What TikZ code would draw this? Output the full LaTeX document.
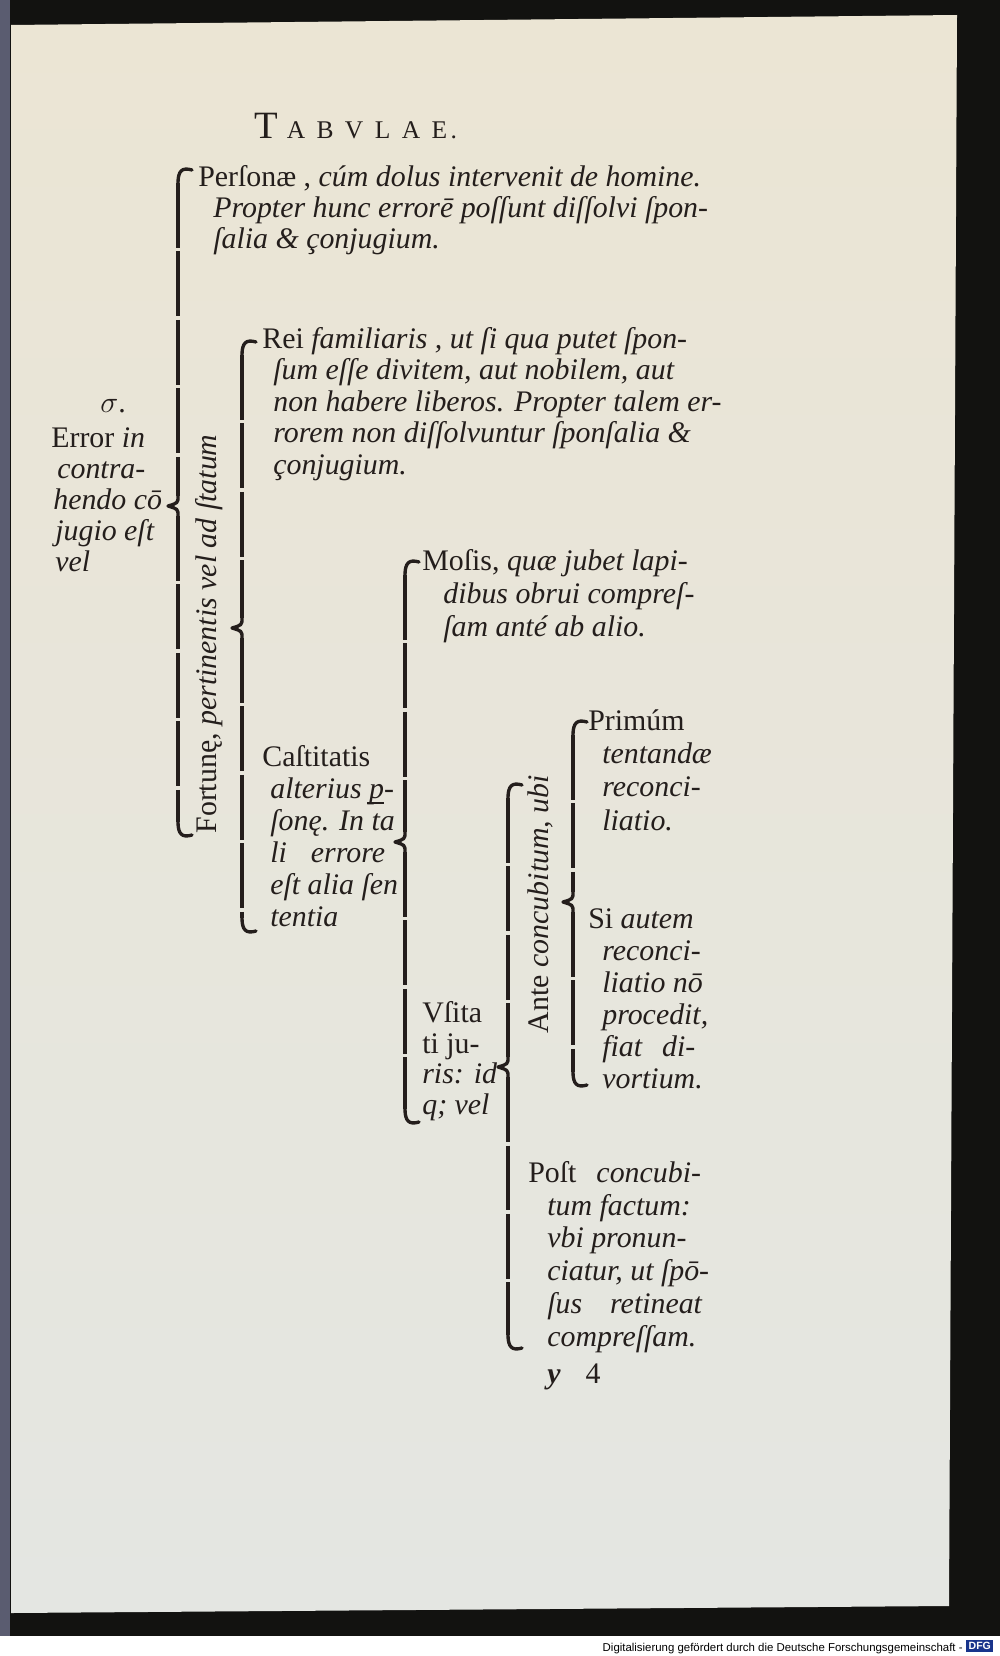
\documentclass[tikz,border=0pt]{standalone}
\usepackage{fontspec}
\usepackage{xcolor}
\usepackage{tikz}
\usetikzlibrary{calc}
\setmainfont{Liberation Serif}
\newfontfamily\dfgfont{Liberation Sans}
\definecolor{paperhi}{RGB}{235,229,212}
\definecolor{paperlo}{RGB}{228,230,226}
\definecolor{scanframe}{RGB}{18,18,16}
\definecolor{scanedge}{RGB}{90,92,112}
\definecolor{ink}{RGB}{36,30,28}
\definecolor{dfgblue}{RGB}{24,52,140}
\newcommand{\pbar}{\rlap{\kern-0.06em\rule[-0.42ex]{0.55em}{0.07em}}p}
% brace set from type pieces: top hook, cusp, bottom hook
\newcommand{\typebrace}[1]{%
  \draw[bracehook] ($(#1-t)+(14,2)$) .. controls ($(#1-t)+(4,-1)$) and ($(#1-t)+(0,3)$) .. ($(#1-t)+(0,15)$);
  \draw[braceline] ($(#1-t)+(0,15)$) -- ($(#1-m)+(0,-10)$);
  \draw[bracehook] ($(#1-m)+(0,-10)$) .. controls ($(#1-m)+(0,-3)$) .. ($(#1-m)+(-10,0)$) .. controls ($(#1-m)+(0,3)$) .. ($(#1-m)+(0,10)$);
  \draw[braceline] ($(#1-m)+(0,10)$) -- ($(#1-b)+(0,-15)$);
  \draw[bracehook] ($(#1-b)+(0,-15)$) .. controls ($(#1-b)+(0,-3)$) and ($(#1-b)+(4,1)$) .. ($(#1-b)+(14,-2)$);
}

\begin{document}
\begin{tikzpicture}[x=0.02cm,y=-0.02cm,line join=round,
  braceline/.style={draw=ink,line width=1.9pt,dash pattern=on 1.3cm off 0.07cm},
  bracehook/.style={draw=ink,line width=1.9pt,line cap=round},
  blk/.style={anchor=base west,inner sep=0pt,align=left,text=ink,font=\fontsize{17}{#1}\selectfont},
  rot/.style={rotate=90,inner sep=0pt,text=ink,font=\fontsize{17}{18}\selectfont}]
  \useasboundingbox (0,0) rectangle (1000,1656);
  % scan frame and page
  \fill[scanframe] (0,0) rectangle (1000,1636);
  \fill[white] (0,1636) rectangle (1000,1656);
  \fill[scanedge] (0,0) rectangle (10,1636);
  \shade[top color=paperhi,bottom color=paperlo] (11,25) -- (957,15) -- (949,1606) -- (11,1613) -- cycle;
  \node[anchor=base east,inner sep=0pt,font=\dfgfont\fontsize{6.5}{7}\selectfont] (dfgline) at (963,1651) {Digitalisierung gefördert durch die Deutsche Forschungsgemeinschaft -};
  \node[anchor=west,fill=dfgblue,text=white,inner sep=1.3pt,font=\dfgfont\bfseries\fontsize{6}{6}\selectfont] (dfglogo) at (966,1646) {DFG};
  % braces
  \coordinate (B1-t) at (178,168);
  \coordinate (B1-m) at (178,506);
  \coordinate (B1-b) at (178,837);
  \coordinate (B2-t) at (242,340);
  \coordinate (B2-m) at (242,628);
  \coordinate (B2-b) at (242,933);
  \coordinate (B3-t) at (405,560);
  \coordinate (B3-m) at (405,842);
  \coordinate (B3-b) at (405,1124);
  \coordinate (B4-t) at (508,783);
  \coordinate (B4-m) at (508,1067);
  \coordinate (B4-b) at (508,1350);
  \coordinate (B5-t) at (573,720);
  \coordinate (B5-m) at (573,902);
  \coordinate (B5-b) at (573,1087);
  \typebrace{B1}
  \typebrace{B2}
  \typebrace{B3}
  \typebrace{B4}
  \typebrace{B5}
  % texts (multi-line blocks sit on their last baseline)
  \node[anchor=base west,inner sep=0pt,text=ink] (title) at (254,138) {\fontsize{22}{22}\selectfont T\hspace{5pt}\fontsize{14.5}{14.5}\selectfont A\hspace{6.5pt}B\hspace{6.5pt}V\hspace{6.5pt}L\hspace{6.5pt}A\hspace{6.5pt}E\hspace{2pt}.};
  \node[blk=17.6] (sig) at (100,412) {$\sigma$.};
  \node[blk=17.6] (error) at (51,571) {Error \textit{in}\\\hspace*{0.12cm}\textit{contra-}\\\hspace*{0.04cm}\textit{hendo cō}\\\hspace*{0.08cm}\textit{jugio eſt}\\\hspace*{0.08cm}\textit{vel}};
  \node[blk=17.6] (personae) at (198,248) {Perſonæ , \textit{cúm dolus intervenit de homine.}\\\hspace*{0.3cm}\textit{Propter hunc errorē poſſunt diſſolvi ſpon-}\\\hspace*{0.3cm}\textit{ſalia \& çonjugium.}};
  \node[rot] (fortunae) at (209,634) {Fortunę, \textit{pertinentis vel ad ſtatum}};
  \node[blk=17.9] (rei) at (262,474) {Rei \textit{familiaris , ut ſi qua putet ſpon-}\\\hspace*{0.22cm}\textit{ſum eſſe divitem, aut nobilem, aut}\\\hspace*{0.22cm}\textit{non habere liberos. Propter talem er-}\\\hspace*{0.22cm}\textit{rorem non diſſolvuntur ſponſalia \&}\\\hspace*{0.22cm}\textit{çonjugium.}};
  \node[blk=18.2] (castitatis) at (262,926) {Caſtitatis\\\hspace*{0.16cm}\textit{alterius \pbar-}\\\hspace*{0.16cm}\textit{ſonę. In ta}\\\hspace*{0.16cm}\textit{li\hspace{0.48cm}errore}\\\hspace*{0.16cm}\textit{eſt alia ſen}\\\hspace*{0.16cm}\textit{tentia}};
  \node[blk=18.5] (mosis) at (422,636) {Moſis, \textit{quæ jubet lapi-}\\\hspace*{0.42cm}\textit{dibus obrui compreſ-}\\\hspace*{0.42cm}\textit{ſam anté ab alio.}};
  \node[blk=17.3] (usitati) at (422,1114) {Vſita\\ti ju-\\\textit{ris: id}\\\textit{q; vel}};
  \node[rot] (ante) at (540,904) {Ante \textit{concubitum, ubi}};
  \node[blk=18.8] (primum) at (588,830) {Primúm\\\hspace*{0.28cm}\textit{tentandæ}\\\hspace*{0.28cm}\textit{reconci-}\\\hspace*{0.28cm}\textit{liatio.}};
  \node[blk=18.2] (siautem) at (588,1088) {Si \textit{autem}\\\hspace*{0.28cm}\textit{reconci-}\\\hspace*{0.28cm}\textit{liatio nō}\\\hspace*{0.28cm}\textit{procedit,}\\\hspace*{0.28cm}\textit{fiat\hspace{0.4cm}di-}\\\hspace*{0.28cm}\textit{vortium.}};
  \node[blk=18.6] (post) at (528,1346) {Poſt\hspace{0.4cm}\textit{concubi-}\\\hspace*{0.38cm}\textit{tum factum:}\\\hspace*{0.38cm}\textit{vbi pronun-}\\\hspace*{0.38cm}\textit{ciatur, ut ſpō-}\\\hspace*{0.38cm}\textit{ſus\hspace{0.56cm}retineat}\\\hspace*{0.38cm}\textit{compreſſam.}};
  \node[blk=17.6] (sheet) at (547,1383) {\textit{\textbf{y}}\hspace{0.5cm}4};
\end{tikzpicture}
\end{document}
